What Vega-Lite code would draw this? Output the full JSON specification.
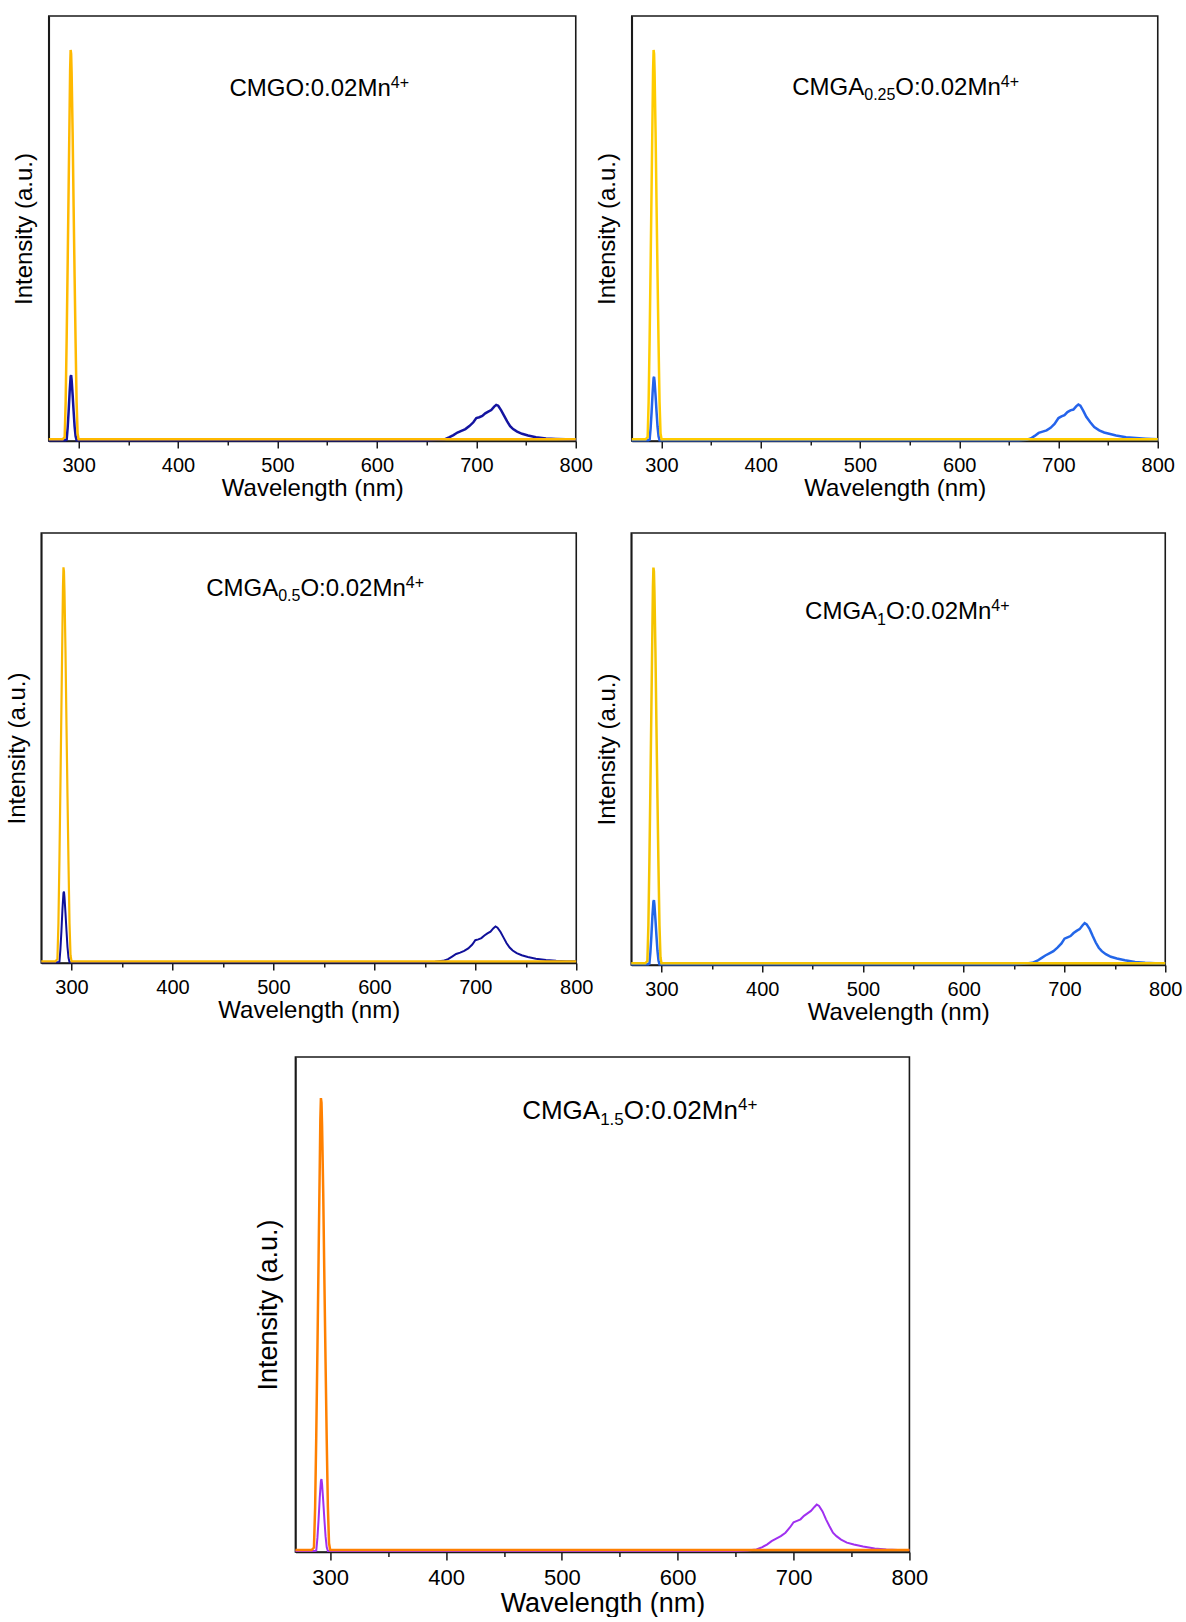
{
  "$schema": "https://vega.github.io/schema/vega-lite/v6.json",
  "background": "white",
  "padding": {"left": 4, "top": 15, "right": 0, "bottom": 0},
  "config": {
    "font": "Liberation Sans",
    "view": {"stroke": "#1a1a1a", "strokeWidth": 1.6},
    "axis": {"domainColor": "#1a1a1a", "domainWidth": 1.6, "tickColor": "#1a1a1a", "tickWidth": 1.5, "labelColor": "#000", "titleColor": "#000", "titleFontWeight": "normal", "grid": false, "minExtent": 0},
    "text": {"color": "#000", "align": "left", "baseline": "alphabetic"}
  },
  "datasets": {
    "exc": [{"wl":270,"I":0.004},{"wl":284,"I":0.004},{"wl":286,"I":0.009},{"wl":287,"I":0.092},{"wl":288,"I":0.239},{"wl":289,"I":0.414},{"wl":290,"I":0.598},{"wl":291,"I":0.782},{"wl":291.5,"I":0.874},{"wl":292,"I":0.92},{"wl":292.5,"I":0.911},{"wl":293,"I":0.865},{"wl":294,"I":0.727},{"wl":295,"I":0.552},{"wl":296,"I":0.386},{"wl":297,"I":0.23},{"wl":298,"I":0.092},{"wl":299,"I":0.018},{"wl":300,"I":0.004},{"wl":400,"I":0.004},{"wl":500,"I":0.004},{"wl":600,"I":0.004},{"wl":700,"I":0.004},{"wl":800,"I":0.004}],
    "exc5": [{"wl":270,"I":0.004},{"wl":284,"I":0.004},{"wl":286,"I":0.009},{"wl":287,"I":0.09},{"wl":288,"I":0.237},{"wl":289,"I":0.41},{"wl":290,"I":0.595},{"wl":291,"I":0.78},{"wl":291.5,"I":0.872},{"wl":292,"I":0.917},{"wl":292.5,"I":0.908},{"wl":293,"I":0.862},{"wl":294,"I":0.725},{"wl":295,"I":0.55},{"wl":296,"I":0.385},{"wl":297,"I":0.229},{"wl":298,"I":0.092},{"wl":299,"I":0.018},{"wl":300,"I":0.004},{"wl":400,"I":0.004},{"wl":500,"I":0.004},{"wl":600,"I":0.004},{"wl":700,"I":0.004},{"wl":800,"I":0.004}],
    "em1": [{"wl":270,"I":0.002},{"wl":287,"I":0.002},{"wl":288,"I":0.003},{"wl":289,"I":0.031},{"wl":290,"I":0.07},{"wl":291,"I":0.116},{"wl":292,"I":0.152},{"wl":292.5,"I":0.155},{"wl":293,"I":0.144},{"wl":294,"I":0.109},{"wl":295,"I":0.07},{"wl":296,"I":0.034},{"wl":297,"I":0.011},{"wl":298,"I":0.002},{"wl":640,"I":0.002},{"wl":650,"I":0.002},{"wl":660,"I":0.003},{"wl":668,"I":0.004},{"wl":673,"I":0.009},{"wl":677,"I":0.014},{"wl":681,"I":0.02},{"wl":685,"I":0.024},{"wl":689,"I":0.028},{"wl":693,"I":0.035},{"wl":697,"I":0.044},{"wl":700,"I":0.054},{"wl":703,"I":0.056},{"wl":706,"I":0.059},{"wl":709,"I":0.065},{"wl":712,"I":0.069},{"wl":715,"I":0.073},{"wl":718,"I":0.081},{"wl":720,"I":0.085},{"wl":722,"I":0.083},{"wl":725,"I":0.072},{"wl":728,"I":0.059},{"wl":731,"I":0.046},{"wl":734,"I":0.035},{"wl":737,"I":0.028},{"wl":741,"I":0.022},{"wl":746,"I":0.017},{"wl":752,"I":0.013},{"wl":760,"I":0.009},{"wl":770,"I":0.006},{"wl":780,"I":0.005},{"wl":790,"I":0.004},{"wl":800,"I":0.003}],
    "em2": [{"wl":270,"I":0.002},{"wl":287,"I":0.002},{"wl":288,"I":0.003},{"wl":289,"I":0.03},{"wl":290,"I":0.068},{"wl":291,"I":0.113},{"wl":292,"I":0.148},{"wl":292.5,"I":0.151},{"wl":293,"I":0.14},{"wl":294,"I":0.106},{"wl":295,"I":0.068},{"wl":296,"I":0.033},{"wl":297,"I":0.011},{"wl":298,"I":0.002},{"wl":640,"I":0.002},{"wl":650,"I":0.002},{"wl":660,"I":0.002},{"wl":668,"I":0.003},{"wl":672,"I":0.006},{"wl":676,"I":0.012},{"wl":680,"I":0.019},{"wl":684,"I":0.022},{"wl":688,"I":0.025},{"wl":692,"I":0.031},{"wl":696,"I":0.04},{"wl":700,"I":0.054},{"wl":703,"I":0.058},{"wl":706,"I":0.061},{"wl":709,"I":0.068},{"wl":712,"I":0.072},{"wl":715,"I":0.074},{"wl":718,"I":0.082},{"wl":720,"I":0.086},{"wl":722,"I":0.083},{"wl":725,"I":0.071},{"wl":728,"I":0.057},{"wl":732,"I":0.044},{"wl":736,"I":0.033},{"wl":741,"I":0.025},{"wl":746,"I":0.02},{"wl":751,"I":0.017},{"wl":758,"I":0.013},{"wl":768,"I":0.009},{"wl":778,"I":0.007},{"wl":788,"I":0.0055},{"wl":800,"I":0.004}],
    "em3": [{"wl":270,"I":0.002},{"wl":287,"I":0.002},{"wl":288,"I":0.003},{"wl":289,"I":0.033},{"wl":290,"I":0.075},{"wl":291,"I":0.125},{"wl":292,"I":0.163},{"wl":292.5,"I":0.166},{"wl":293,"I":0.154},{"wl":294,"I":0.116},{"wl":295,"I":0.075},{"wl":296,"I":0.037},{"wl":297,"I":0.012},{"wl":298,"I":0.002},{"wl":640,"I":0.002},{"wl":650,"I":0.002},{"wl":660,"I":0.003},{"wl":668,"I":0.005},{"wl":673,"I":0.009},{"wl":677,"I":0.015},{"wl":681,"I":0.021},{"wl":685,"I":0.024},{"wl":689,"I":0.028},{"wl":693,"I":0.034},{"wl":697,"I":0.043},{"wl":700,"I":0.053},{"wl":703,"I":0.055},{"wl":706,"I":0.058},{"wl":709,"I":0.064},{"wl":712,"I":0.069},{"wl":715,"I":0.073},{"wl":718,"I":0.081},{"wl":720,"I":0.085},{"wl":722,"I":0.082},{"wl":725,"I":0.072},{"wl":728,"I":0.059},{"wl":731,"I":0.046},{"wl":734,"I":0.036},{"wl":737,"I":0.029},{"wl":741,"I":0.023},{"wl":746,"I":0.018},{"wl":752,"I":0.014},{"wl":760,"I":0.01},{"wl":770,"I":0.007},{"wl":780,"I":0.005},{"wl":790,"I":0.004},{"wl":800,"I":0.004}],
    "em4": [{"wl":270,"I":0.002},{"wl":287,"I":0.002},{"wl":288,"I":0.003},{"wl":289,"I":0.03},{"wl":290,"I":0.068},{"wl":291,"I":0.113},{"wl":292,"I":0.147},{"wl":292.5,"I":0.15},{"wl":293,"I":0.14},{"wl":294,"I":0.105},{"wl":295,"I":0.068},{"wl":296,"I":0.033},{"wl":297,"I":0.011},{"wl":298,"I":0.002},{"wl":640,"I":0.002},{"wl":650,"I":0.002},{"wl":660,"I":0.003},{"wl":668,"I":0.005},{"wl":673,"I":0.01},{"wl":677,"I":0.016},{"wl":681,"I":0.022},{"wl":685,"I":0.027},{"wl":689,"I":0.032},{"wl":693,"I":0.04},{"wl":697,"I":0.05},{"wl":700,"I":0.061},{"wl":703,"I":0.064},{"wl":706,"I":0.067},{"wl":709,"I":0.074},{"wl":712,"I":0.079},{"wl":715,"I":0.083},{"wl":718,"I":0.092},{"wl":720,"I":0.097},{"wl":722,"I":0.094},{"wl":725,"I":0.083},{"wl":728,"I":0.067},{"wl":731,"I":0.052},{"wl":734,"I":0.04},{"wl":737,"I":0.032},{"wl":741,"I":0.025},{"wl":746,"I":0.019},{"wl":752,"I":0.015},{"wl":760,"I":0.011},{"wl":770,"I":0.007},{"wl":780,"I":0.005},{"wl":790,"I":0.004},{"wl":800,"I":0.004}],
    "em5": [{"wl":270,"I":0.002},{"wl":287,"I":0.002},{"wl":288,"I":0.003},{"wl":289,"I":0.029},{"wl":290,"I":0.066},{"wl":291,"I":0.11},{"wl":292,"I":0.144},{"wl":292.5,"I":0.147},{"wl":293,"I":0.137},{"wl":294,"I":0.103},{"wl":295,"I":0.066},{"wl":296,"I":0.032},{"wl":297,"I":0.01},{"wl":298,"I":0.002},{"wl":640,"I":0.002},{"wl":650,"I":0.002},{"wl":660,"I":0.003},{"wl":668,"I":0.005},{"wl":673,"I":0.01},{"wl":677,"I":0.015},{"wl":681,"I":0.022},{"wl":685,"I":0.027},{"wl":689,"I":0.032},{"wl":693,"I":0.039},{"wl":697,"I":0.05},{"wl":700,"I":0.06},{"wl":703,"I":0.063},{"wl":706,"I":0.066},{"wl":709,"I":0.073},{"wl":712,"I":0.078},{"wl":715,"I":0.083},{"wl":718,"I":0.091},{"wl":720,"I":0.096},{"wl":722,"I":0.093},{"wl":725,"I":0.082},{"wl":728,"I":0.066},{"wl":731,"I":0.052},{"wl":734,"I":0.039},{"wl":737,"I":0.032},{"wl":741,"I":0.025},{"wl":746,"I":0.019},{"wl":752,"I":0.015},{"wl":760,"I":0.011},{"wl":770,"I":0.007},{"wl":780,"I":0.005},{"wl":790,"I":0.004},{"wl":800,"I":0.004}]
  },
  "spacing": 31,
  "center": true,
  "vconcat": [
    {
      "spacing": 1,
      "hconcat": [
        {
          "width": 527, "height": 425,
          "layer": [
            {"data": {"name": "em1"}, "mark": {"type": "line", "color": "#1414A0", "strokeWidth": 2.5},
              "encoding": {
                "x": {"field": "wl", "type": "quantitative", "scale": {"domain": [270, 800], "nice": false, "zero": false},
                  "axis": {"title": "Wavelength (nm)", "values": [300,350,400,450,500,550,600,650,700,750,800], "labelExpr": "datum.value % 100 === 0 ? datum.label : ''", "tickSize": {"condition": {"test": "datum.value % 100 === 0", "value": 7}, "value": 4}, "labelFontSize": 20, "titleFontSize": 24, "labelPadding": 7, "titlePadding": 1, "labelFlush": false, "labelOverlap": false}},
                "y": {"field": "I", "type": "quantitative", "scale": {"domain": [0, 1], "nice": false},
                  "axis": {"title": "Intensity (a.u.)", "labels": false, "ticks": false, "titleFontSize": 24, "titlePadding": 12}}}},
            {"data": {"name": "exc"}, "mark": {"type": "line", "color": "#FFB900", "strokeWidth": 2.5},
              "encoding": {"x": {"field": "wl", "type": "quantitative", "scale": {"domain": [270, 800], "nice": false, "zero": false}}, "y": {"field": "I", "type": "quantitative", "scale": {"domain": [0, 1], "nice": false}}}},
            {"data": {"values": [{"t": "CMGO:0.02Mn"}]}, "mark": {"type": "text", "fontSize": 24},
              "encoding": {"text": {"field": "t", "type": "nominal"}, "x": {"datum": 451.7, "type": "quantitative"}, "y": {"datum": 0.812, "type": "quantitative"}}},
            {"data": {"values": [{"t": "4+"}]}, "mark": {"type": "text", "fontSize": 16, "dx": 161.4, "dy": -8},
              "encoding": {"text": {"field": "t", "type": "nominal"}, "x": {"datum": 451.7, "type": "quantitative"}, "y": {"datum": 0.812, "type": "quantitative"}}}
          ]
        },
        {
          "width": 526, "height": 425,
          "layer": [
            {"data": {"name": "em2"}, "mark": {"type": "line", "color": "#2563EB", "strokeWidth": 2.5},
              "encoding": {
                "x": {"field": "wl", "type": "quantitative", "scale": {"domain": [270, 800], "nice": false, "zero": false},
                  "axis": {"title": "Wavelength (nm)", "values": [300,350,400,450,500,550,600,650,700,750,800], "labelExpr": "datum.value % 100 === 0 ? datum.label : ''", "tickSize": {"condition": {"test": "datum.value % 100 === 0", "value": 7}, "value": 4}, "labelFontSize": 20, "titleFontSize": 24, "labelPadding": 7, "titlePadding": 1, "labelFlush": false, "labelOverlap": false}},
                "y": {"field": "I", "type": "quantitative", "scale": {"domain": [0, 1], "nice": false},
                  "axis": {"title": "Intensity (a.u.)", "labels": false, "ticks": false, "titleFontSize": 24, "titlePadding": 12}}}},
            {"data": {"name": "exc"}, "mark": {"type": "line", "color": "#FFCC00", "strokeWidth": 2.5},
              "encoding": {"x": {"field": "wl", "type": "quantitative", "scale": {"domain": [270, 800], "nice": false, "zero": false}}, "y": {"field": "I", "type": "quantitative", "scale": {"domain": [0, 1], "nice": false}}}},
            {"data": {"values": [{"t": "CMGA"}]}, "mark": {"type": "text", "fontSize": 24},
              "encoding": {"text": {"field": "t", "type": "nominal"}, "x": {"datum": 431.7, "type": "quantitative"}, "y": {"datum": 0.815, "type": "quantitative"}}},
            {"data": {"values": [{"t": "0.25"}]}, "mark": {"type": "text", "fontSize": 16, "dx": 72, "dy": 5.5},
              "encoding": {"text": {"field": "t", "type": "nominal"}, "x": {"datum": 431.7, "type": "quantitative"}, "y": {"datum": 0.815, "type": "quantitative"}}},
            {"data": {"values": [{"t": "O:0.02Mn"}]}, "mark": {"type": "text", "fontSize": 24, "dx": 103.1},
              "encoding": {"text": {"field": "t", "type": "nominal"}, "x": {"datum": 431.7, "type": "quantitative"}, "y": {"datum": 0.815, "type": "quantitative"}}},
            {"data": {"values": [{"t": "4+"}]}, "mark": {"type": "text", "fontSize": 16, "dx": 208.5, "dy": -8},
              "encoding": {"text": {"field": "t", "type": "nominal"}, "x": {"datum": 431.7, "type": "quantitative"}, "y": {"datum": 0.815, "type": "quantitative"}}}
          ]
        }
      ]
    },
    {
      "spacing": 0,
      "hconcat": [
        {
          "width": 535, "height": 430,
          "layer": [
            {"data": {"name": "em3"}, "mark": {"type": "line", "color": "#10109A", "strokeWidth": 2},
              "encoding": {
                "x": {"field": "wl", "type": "quantitative", "scale": {"domain": [270, 800], "nice": false, "zero": false},
                  "axis": {"title": "Wavelength (nm)", "values": [300,350,400,450,500,550,600,650,700,750,800], "labelExpr": "datum.value % 100 === 0 ? datum.label : ''", "tickSize": {"condition": {"test": "datum.value % 100 === 0", "value": 7}, "value": 4}, "labelFontSize": 20, "titleFontSize": 24, "labelPadding": 7, "titlePadding": 1, "labelFlush": false, "labelOverlap": false}},
                "y": {"field": "I", "type": "quantitative", "scale": {"domain": [0, 1], "nice": false},
                  "axis": {"title": "Intensity (a.u.)", "labels": false, "ticks": false, "titleFontSize": 24, "titlePadding": 12}}}},
            {"data": {"name": "exc"}, "mark": {"type": "line", "color": "#F9B800", "strokeWidth": 2.2},
              "encoding": {"x": {"field": "wl", "type": "quantitative", "scale": {"domain": [270, 800], "nice": false, "zero": false}}, "y": {"field": "I", "type": "quantitative", "scale": {"domain": [0, 1], "nice": false}}}},
            {"data": {"values": [{"t": "CMGA"}]}, "mark": {"type": "text", "fontSize": 24},
              "encoding": {"text": {"field": "t", "type": "nominal"}, "x": {"datum": 433.4, "type": "quantitative"}, "y": {"datum": 0.854, "type": "quantitative"}}},
            {"data": {"values": [{"t": "0.5"}]}, "mark": {"type": "text", "fontSize": 16, "dx": 72, "dy": 5.5},
              "encoding": {"text": {"field": "t", "type": "nominal"}, "x": {"datum": 433.4, "type": "quantitative"}, "y": {"datum": 0.854, "type": "quantitative"}}},
            {"data": {"values": [{"t": "O:0.02Mn"}]}, "mark": {"type": "text", "fontSize": 24, "dx": 94.2},
              "encoding": {"text": {"field": "t", "type": "nominal"}, "x": {"datum": 433.4, "type": "quantitative"}, "y": {"datum": 0.854, "type": "quantitative"}}},
            {"data": {"values": [{"t": "4+"}]}, "mark": {"type": "text", "fontSize": 16, "dx": 199.6, "dy": -8},
              "encoding": {"text": {"field": "t", "type": "nominal"}, "x": {"datum": 433.4, "type": "quantitative"}, "y": {"datum": 0.854, "type": "quantitative"}}}
          ]
        },
        {
          "width": 534, "height": 432,
          "layer": [
            {"data": {"name": "em4"}, "mark": {"type": "line", "color": "#2366E8", "strokeWidth": 2.5},
              "encoding": {
                "x": {"field": "wl", "type": "quantitative", "scale": {"domain": [270, 800], "nice": false, "zero": false},
                  "axis": {"title": "Wavelength (nm)", "values": [300,350,400,450,500,550,600,650,700,750,800], "labelExpr": "datum.value % 100 === 0 ? datum.label : ''", "tickSize": {"condition": {"test": "datum.value % 100 === 0", "value": 7}, "value": 4}, "labelFontSize": 20, "titleFontSize": 24, "labelPadding": 7, "titlePadding": 1, "labelFlush": false, "labelOverlap": false}},
                "y": {"field": "I", "type": "quantitative", "scale": {"domain": [0, 1], "nice": false},
                  "axis": {"title": "Intensity (a.u.)", "labels": false, "ticks": false, "titleFontSize": 24, "titlePadding": 12}}}},
            {"data": {"name": "exc"}, "mark": {"type": "line", "color": "#F5C400", "strokeWidth": 2.5},
              "encoding": {"x": {"field": "wl", "type": "quantitative", "scale": {"domain": [270, 800], "nice": false, "zero": false}}, "y": {"field": "I", "type": "quantitative", "scale": {"domain": [0, 1], "nice": false}}}},
            {"data": {"values": [{"t": "CMGA"}]}, "mark": {"type": "text", "fontSize": 24},
              "encoding": {"text": {"field": "t", "type": "nominal"}, "x": {"datum": 442.5, "type": "quantitative"}, "y": {"datum": 0.8, "type": "quantitative"}}},
            {"data": {"values": [{"t": "1"}]}, "mark": {"type": "text", "fontSize": 16, "dx": 72, "dy": 5.5},
              "encoding": {"text": {"field": "t", "type": "nominal"}, "x": {"datum": 442.5, "type": "quantitative"}, "y": {"datum": 0.8, "type": "quantitative"}}},
            {"data": {"values": [{"t": "O:0.02Mn"}]}, "mark": {"type": "text", "fontSize": 24, "dx": 80.9},
              "encoding": {"text": {"field": "t", "type": "nominal"}, "x": {"datum": 442.5, "type": "quantitative"}, "y": {"datum": 0.8, "type": "quantitative"}}},
            {"data": {"values": [{"t": "4+"}]}, "mark": {"type": "text", "fontSize": 16, "dx": 186.3, "dy": -8},
              "encoding": {"text": {"field": "t", "type": "nominal"}, "x": {"datum": 442.5, "type": "quantitative"}, "y": {"datum": 0.8, "type": "quantitative"}}}
          ]
        }
      ]
    },
    {
      "width": 614, "height": 495,
      "layer": [
        {"data": {"name": "em5"}, "mark": {"type": "line", "color": "#A030F0", "strokeWidth": 2},
          "encoding": {
            "x": {"field": "wl", "type": "quantitative", "scale": {"domain": [270, 800], "nice": false, "zero": false},
              "axis": {"title": "Wavelength (nm)", "values": [300,350,400,450,500,550,600,650,700,750,800], "labelExpr": "datum.value % 100 === 0 ? datum.label : ''", "tickSize": {"condition": {"test": "datum.value % 100 === 0", "value": 8}, "value": 4.5}, "labelFontSize": 22, "titleFontSize": 27, "labelPadding": 7, "titlePadding": 2, "labelFlush": false, "labelOverlap": false}},
            "y": {"field": "I", "type": "quantitative", "scale": {"domain": [0, 1], "nice": false},
              "axis": {"title": "Intensity (a.u.)", "labels": false, "ticks": false, "titleFontSize": 27, "titlePadding": 13}}}},
        {"data": {"name": "exc5"}, "mark": {"type": "line", "color": "#FF8000", "strokeWidth": 2.5},
          "encoding": {"x": {"field": "wl", "type": "quantitative", "scale": {"domain": [270, 800], "nice": false, "zero": false}}, "y": {"field": "I", "type": "quantitative", "scale": {"domain": [0, 1], "nice": false}}}},
        {"data": {"values": [{"t": "CMGA"}]}, "mark": {"type": "text", "fontSize": 26},
          "encoding": {"text": {"field": "t", "type": "nominal"}, "x": {"datum": 465.7, "type": "quantitative"}, "y": {"datum": 0.875, "type": "quantitative"}}},
        {"data": {"values": [{"t": "1.5"}]}, "mark": {"type": "text", "fontSize": 17, "dx": 78, "dy": 6},
          "encoding": {"text": {"field": "t", "type": "nominal"}, "x": {"datum": 465.7, "type": "quantitative"}, "y": {"datum": 0.875, "type": "quantitative"}}},
        {"data": {"values": [{"t": "O:0.02Mn"}]}, "mark": {"type": "text", "fontSize": 26, "dx": 101.6},
          "encoding": {"text": {"field": "t", "type": "nominal"}, "x": {"datum": 465.7, "type": "quantitative"}, "y": {"datum": 0.875, "type": "quantitative"}}},
        {"data": {"values": [{"t": "4+"}]}, "mark": {"type": "text", "fontSize": 17, "dx": 215.8, "dy": -9},
          "encoding": {"text": {"field": "t", "type": "nominal"}, "x": {"datum": 465.7, "type": "quantitative"}, "y": {"datum": 0.875, "type": "quantitative"}}}
      ]
    }
  ]
}
